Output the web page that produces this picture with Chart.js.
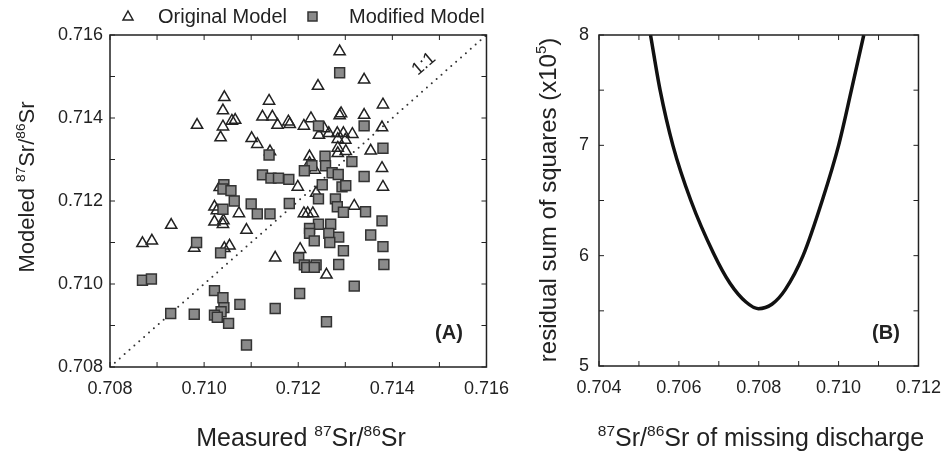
<!DOCTYPE html>
<html>
<head>
<meta charset="utf-8">
<script src="https://cdn.jsdelivr.net/npm/chart.js@4.4.1/dist/chart.umd.min.js"></script>
<style>
  body { margin: 0; background: #fff; }
  canvas { position: absolute; top: 0; }
  #chartA { left: 0; }
  #chartB { left: 520px; }
</style>
</head>
<body>
<canvas id="chartA" width="520" height="455"></canvas>
<canvas id="chartB" width="432" height="455"></canvas>
<script>
// panel A: measured vs modeled 87Sr/86Sr
const originalX = [0.71043, 0.71138, 0.71040, 0.70985, 0.71040, 0.71059, 0.71066, 0.71035, 0.71124, 0.71145,
  0.71156, 0.71179, 0.71182, 0.71101, 0.71113, 0.71140, 0.71288, 0.71242, 0.71340, 0.71380,
  0.71291, 0.71288, 0.71340, 0.71212, 0.71227, 0.71378, 0.71255, 0.71244, 0.71265, 0.71283,
  0.71296, 0.71315, 0.71300, 0.71284, 0.71284, 0.71284, 0.71301, 0.71354, 0.71224, 0.71224,
  0.71378, 0.71235, 0.71199, 0.71380, 0.71033, 0.71022, 0.71027, 0.71074, 0.70930, 0.71022,
  0.71041, 0.71040, 0.71090, 0.70869, 0.70889, 0.71043, 0.71054, 0.71151, 0.70979, 0.71238,
  0.71319, 0.71212, 0.71220, 0.71231, 0.71204, 0.71260];
const originalY = [0.71450, 0.71441, 0.71418, 0.71383, 0.71379, 0.71393, 0.71395, 0.71353, 0.71403, 0.71403,
  0.71383, 0.71391, 0.71385, 0.71351, 0.71337, 0.71319, 0.71560, 0.71477, 0.71492, 0.71432,
  0.71411, 0.71406, 0.71407, 0.71381, 0.71399, 0.71377, 0.71375, 0.71359, 0.71363, 0.71363,
  0.71363, 0.71361, 0.71347, 0.71349, 0.71328, 0.71315, 0.71320, 0.71321, 0.71307, 0.71291,
  0.71279, 0.71275, 0.71234, 0.71234, 0.71233, 0.71186, 0.71177, 0.71170, 0.71142, 0.71150,
  0.71153, 0.71144, 0.71130, 0.71098, 0.71104, 0.71086, 0.71092, 0.71063, 0.71087, 0.71219,
  0.71188, 0.71170, 0.71170, 0.71170, 0.71084, 0.71022];

const modifiedX = [0.71138, 0.71124, 0.71142, 0.71158, 0.71180, 0.71288, 0.71243, 0.71340, 0.71380, 0.71257,
  0.71314, 0.71229, 0.71258, 0.71213, 0.71272, 0.71285, 0.71340, 0.71251, 0.71293, 0.71301,
  0.71042, 0.71040, 0.71057, 0.71064, 0.71100, 0.71113, 0.71140, 0.71181, 0.71040, 0.70984,
  0.71035, 0.70869, 0.70888, 0.70929, 0.70979, 0.71022, 0.71040, 0.71042, 0.71036, 0.71022,
  0.71028, 0.71076, 0.71052, 0.71151, 0.71090, 0.71243, 0.71279, 0.71283, 0.71296, 0.71343,
  0.71378, 0.71243, 0.71269, 0.71224, 0.71224, 0.71265, 0.71286, 0.71234, 0.71267, 0.71354,
  0.71296, 0.71380, 0.71201, 0.71213, 0.71218, 0.71238, 0.71234, 0.71286, 0.71382, 0.71319,
  0.71203, 0.71260];
const modifiedY = [0.71311, 0.71263, 0.71255, 0.71255, 0.71252, 0.71509, 0.71381, 0.71381, 0.71327, 0.71308,
  0.71295, 0.71285, 0.71285, 0.71273, 0.71268, 0.71264, 0.71259, 0.71239, 0.71234, 0.71237,
  0.71239, 0.71229, 0.71225, 0.71200, 0.71193, 0.71169, 0.71169, 0.71194, 0.71180, 0.71100,
  0.71075, 0.71009, 0.71012, 0.70929, 0.70927, 0.70984, 0.70967, 0.70943, 0.70933, 0.70925,
  0.70920, 0.70951, 0.70905, 0.70941, 0.70853, 0.71205, 0.71205, 0.71186, 0.71173, 0.71174,
  0.71152, 0.71144, 0.71144, 0.71134, 0.71122, 0.71122, 0.71113, 0.71104, 0.71100, 0.71118,
  0.71080, 0.71090, 0.71063, 0.71046, 0.71040, 0.71046, 0.71040, 0.71047, 0.71047, 0.70995,
  0.70977, 0.70909];

const oneToOneX = [0.708, 0.716];
const oneToOneY = [0.708, 0.716];

const ticksA = [0.708, 0.709, 0.710, 0.711, 0.712, 0.713, 0.714, 0.715, 0.716];
const tickLabelsA = ['0.708', '0.710', '0.712', '0.714', '0.716'];

// panel B: residual sum of squares vs 87Sr/86Sr of missing discharge
const dischargeX = [0.70529, 0.70553, 0.70585, 0.70630, 0.70687, 0.70728, 0.70768, 0.70799,
  0.70833, 0.70866, 0.70911, 0.70959, 0.71000, 0.71032, 0.71063];
const rssY = [8.00, 7.50, 7.00, 6.50, 6.02, 5.75, 5.58, 5.52, 5.56, 5.69, 6.00, 6.50, 7.00, 7.50, 8.00];

const ticksBx = [0.704, 0.705, 0.706, 0.707, 0.708, 0.709, 0.710, 0.711, 0.712];
const tickLabelsBx = ['0.704', '0.706', '0.708', '0.710', '0.712'];
const ticksBy = [5, 5.5, 6, 6.5, 7, 7.5, 8];
const tickLabelsBy = ['5', '6', '7', '8'];

const FONT = '"Liberation Sans", Arial, sans-serif';
const INK = '#222';

Chart.defaults.font.family = FONT;
Chart.defaults.color = INK;

function zip(xs, ys) {
  return xs.map((x, i) => ({ x: x, y: ys[i] }));
}

// text with superscript parts, centred on x
function richText(ctx, parts, x, y, size) {
  let total = 0;
  parts.forEach((p) => {
    ctx.font = `${p.sup ? size * 0.62 : size}px ${FONT}`;
    total += ctx.measureText(p.t).width;
  });
  let cx = x - total / 2;
  ctx.textAlign = 'left';
  ctx.textBaseline = 'alphabetic';
  parts.forEach((p) => {
    ctx.font = `${p.sup ? size * 0.62 : size}px ${FONT}`;
    ctx.fillText(p.t, cx, p.sup ? y - size * 0.4 : y);
    cx += ctx.measureText(p.t).width;
  });
}

// frame plus inward tick marks on all four sides
function drawFrame(chart) {
  const ctx = chart.ctx;
  const a = chart.chartArea;
  const xs = chart.scales.x;
  const ys = chart.scales.y;
  ctx.save();
  ctx.strokeStyle = INK;
  ctx.lineWidth = 1.5;
  ctx.strokeRect(a.left, a.top, a.right - a.left, a.bottom - a.top);
  ctx.lineWidth = 1;
  ctx.beginPath();
  xs.ticks.forEach((t) => {
    const px = xs.getPixelForValue(t.value);
    ctx.moveTo(px, a.bottom);
    ctx.lineTo(px, a.bottom - 5);
    ctx.moveTo(px, a.top);
    ctx.lineTo(px, a.top + 5);
  });
  ys.ticks.forEach((t) => {
    const py = ys.getPixelForValue(t.value);
    ctx.moveTo(a.left, py);
    ctx.lineTo(a.left + 5, py);
    ctx.moveTo(a.right, py);
    ctx.lineTo(a.right - 5, py);
  });
  ctx.stroke();
  ctx.restore();
}

function tickScale(min, max, values, labels, fit, pad) {
  return {
    type: 'linear',
    min: min,
    max: max,
    grid: { display: false, drawTicks: false },
    border: { display: false },
    afterBuildTicks: (s) => { s.ticks = values.map((v) => ({ value: v })); },
    afterFit: fit,
    ticks: {
      autoSkip: false,
      maxRotation: 0,
      padding: pad,
      font: { size: 18 },
      color: INK,
      callback: (v) => {
        const l = labels.find((s) => Math.abs(parseFloat(s) - v) < 1e-9);
        return l === undefined ? '' : l;
      },
    },
  };
}

const panelA = {
  id: 'panelA',
  afterDraw(chart) {
    drawFrame(chart);
    const ctx = chart.ctx;
    const xs = chart.scales.x;
    const ys = chart.scales.y;
    ctx.save();
    ctx.fillStyle = INK;

    // legend
    ctx.strokeStyle = INK;
    ctx.lineWidth = 1.5;
    ctx.beginPath();
    ctx.moveTo(128, 11);
    ctx.lineTo(133, 20);
    ctx.lineTo(123, 20);
    ctx.closePath();
    ctx.stroke();
    ctx.fillStyle = '#8a8a8a';
    ctx.fillRect(308, 12, 9, 9);
    ctx.strokeStyle = '#333';
    ctx.strokeRect(308, 12, 9, 9);
    ctx.fillStyle = INK;
    ctx.font = `20px ${FONT}`;
    ctx.textAlign = 'left';
    ctx.textBaseline = 'middle';
    ctx.fillText('Original Model', 158, 17);
    ctx.fillText('Modified Model', 349, 17);

    // 1:1 label
    ctx.save();
    ctx.translate(xs.getPixelForValue(0.71467), ys.getPixelForValue(0.71530));
    ctx.rotate(-Math.atan2(41.5, 48));
    ctx.font = `18px ${FONT}`;
    ctx.textAlign = 'center';
    ctx.fillText('1:1', 0, 0);
    ctx.restore();

    // panel tag
    ctx.font = `bold 20px ${FONT}`;
    ctx.textAlign = 'center';
    ctx.fillText('(A)', 449, 333);

    // axis titles
    richText(ctx, [{ t: 'Measured ' }, { t: '87', sup: true }, { t: 'Sr/' }, { t: '86', sup: true }, { t: 'Sr' }], 301, 446, 25);
    ctx.save();
    ctx.translate(34, 187);
    ctx.rotate(-Math.PI / 2);
    richText(ctx, [{ t: 'Modeled ' }, { t: '87', sup: true }, { t: 'Sr/' }, { t: '86', sup: true }, { t: 'Sr' }], 0, 0, 22);
    ctx.restore();
    ctx.restore();
  },
};

const panelB = {
  id: 'panelB',
  afterDraw(chart) {
    drawFrame(chart);
    const ctx = chart.ctx;
    ctx.save();
    ctx.fillStyle = INK;
    ctx.font = `bold 20px ${FONT}`;
    ctx.textAlign = 'center';
    ctx.textBaseline = 'middle';
    ctx.fillText('(B)', 366, 333);
    richText(ctx, [{ t: '87', sup: true }, { t: 'Sr/' }, { t: '86', sup: true }, { t: 'Sr of missing discharge' }], 241, 446, 25);
    ctx.save();
    ctx.translate(36, 200);
    ctx.rotate(-Math.PI / 2);
    richText(ctx, [{ t: 'residual sum of squares (x10' }, { t: '5', sup: true }, { t: ')' }], 0, 0, 24);
    ctx.restore();
    ctx.restore();
  },
};

new Chart(document.getElementById('chartA'), {
  type: 'scatter',
  data: {
    datasets: [
      {
        label: 'Modified Model',
        data: zip(modifiedX, modifiedY),
        order: 1,
        pointStyle: 'rect',
        pointRadius: 7,
        backgroundColor: '#8a8a8a',
        borderColor: '#333',
        borderWidth: 1.5,
      },
      {
        label: 'Original Model',
        data: zip(originalX, originalY),
        order: 2,
        pointStyle: 'triangle',
        pointRadius: 6.5,
        backgroundColor: 'rgba(255,255,255,0)',
        borderColor: INK,
        borderWidth: 1.5,
      },
      {
        label: '1:1',
        data: zip(oneToOneX, oneToOneY),
        order: 3,
        showLine: true,
        pointRadius: 0,
        borderColor: '#333',
        borderWidth: 2,
        borderDash: [0, 6.5],
        borderCapStyle: 'round',
      },
    ],
  },
  options: {
    responsive: false,
    animation: false,
    layout: { padding: { left: 0, top: 35, right: 26, bottom: 0 } },
    plugins: { legend: { display: false }, tooltip: { enabled: false } },
    scales: {
      x: tickScale(0.708, 0.716, ticksA, tickLabelsA, (s) => { s.height = 88; }, 11),
      y: tickScale(0.708, 0.716, ticksA, tickLabelsA, (s) => { s.width = 110; }, 7),
    },
  },
  plugins: [panelA],
});

new Chart(document.getElementById('chartB'), {
  type: 'scatter',
  data: {
    datasets: [
      {
        label: 'RSS',
        data: zip(dischargeX, rssY),
        showLine: true,
        pointRadius: 0,
        borderColor: '#111',
        borderWidth: 3.5,
        cubicInterpolationMode: 'monotone',
      },
    ],
  },
  options: {
    responsive: false,
    animation: false,
    layout: { padding: { left: 0, top: 35, right: 26, bottom: 0 } },
    plugins: { legend: { display: false }, tooltip: { enabled: false } },
    scales: {
      x: tickScale(0.704, 0.712, ticksBx, tickLabelsBx, (s) => { s.height = 89; }, 11),
      y: tickScale(5, 8, ticksBy, tickLabelsBy, (s) => { s.width = 79; }, 10),
    },
  },
  plugins: [panelB],
});
</script>
</body>
</html>
